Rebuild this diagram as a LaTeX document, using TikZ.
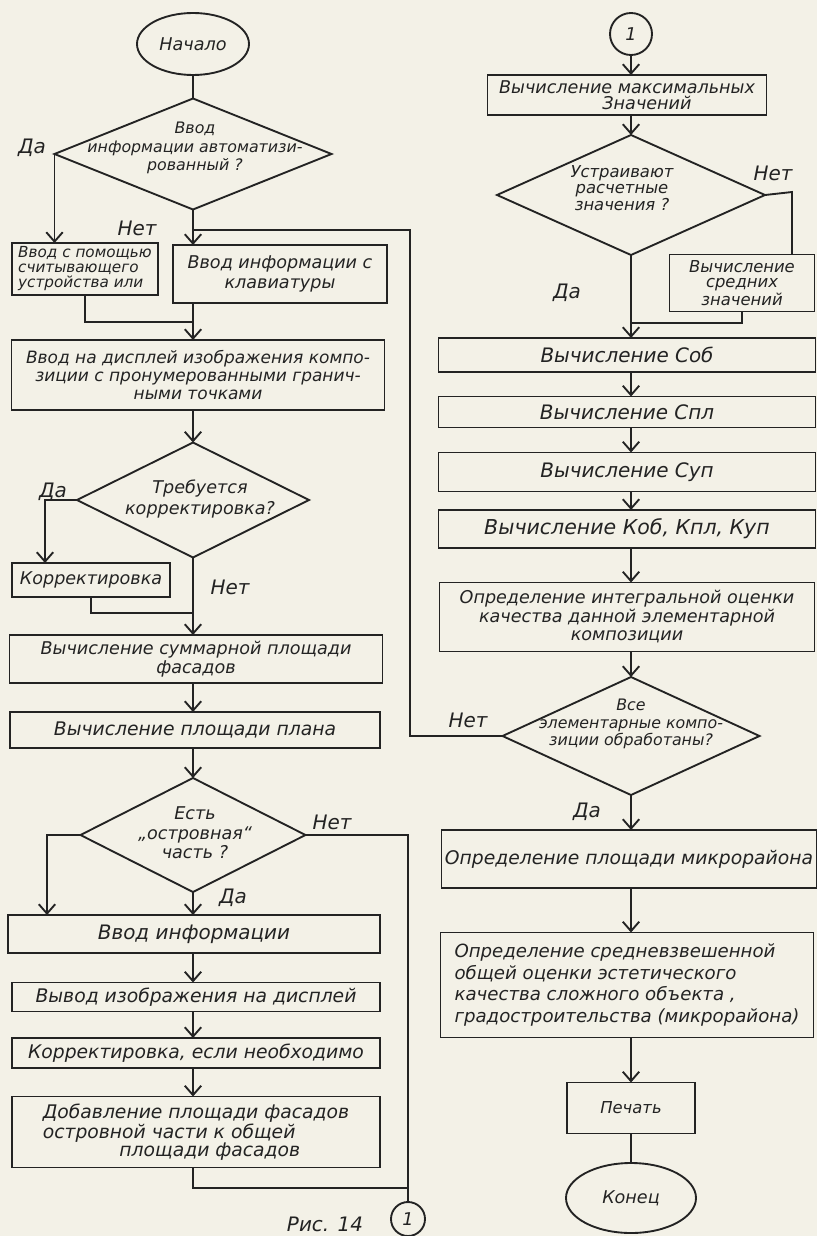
\documentclass[tikz,border=0pt]{standalone}
\usepackage{fontspec}
\setmainfont{DejaVu Sans}
\usetikzlibrary{shapes.geometric,arrows.meta}
\definecolor{paper}{RGB}{243,241,231}
\definecolor{ink}{RGB}{35,35,35}
\newcommand{\myfs}[2]{\fontsize{#1}{#2}\selectfont\itshape}
\begin{document}
\begin{tikzpicture}[x=0.03cm,y=-0.03cm,
  sz/.style 2 args={minimum width=#1*0.03cm, minimum height=#2*0.03cm},
  box/.style={draw=ink, line width=1.6pt, rectangle, inner sep=0pt, outer sep=0pt, text=ink, align=center, font=\myfs{16}{15.5}},
  dia/.style={draw=ink, line width=1.6pt, diamond, inner sep=0pt, outer sep=0pt},
  term/.style={draw=ink, line width=1.6pt, ellipse, inner sep=0pt, outer sep=0pt, text=ink, font=\myfs{15}{15}},
  conn/.style={draw=ink, line width=1.6pt, circle, inner sep=0pt, outer sep=0pt, text=ink, font=\myfs{15}{15}},
  txt/.style={inner sep=0pt, text=ink, align=center, font=\myfs{15}{15.5}},
  lbl/.style={inner sep=0pt, text=ink, font=\myfs{17}{17}},
  ln/.style={draw=ink, line width=1.6pt},
  arr/.style={-{Straight Barb[length=8pt,width=14pt,line width=1.6pt]}}
]
\useasboundingbox (0,0) rectangle (817,1236);
\fill[paper] (0,0) rectangle (817,1236);

% ---------------- left column ----------------
\node[term, sz={112}{62}] (start) at (193,44) {Начало};
\node[dia, sz={277}{111}] (d1) at (193,154) {};
\node[txt, font=\myfs{13.5}{15.5}] (d1t) at (195,148) {Ввод\\информации автоматизи-\\рованный ?};
\node[lbl] (l1) at (32,148) {Да};
\node[lbl] (l2) at (137,228) {Нет};

\node[box, sz={146}{52}, align=left, font=\myfs{13}{12.8}] (b1) at (85,269) {Ввод с помощью\\считывающего\\устройства или};
\node[box, sz={214}{58}, font=\myfs{15}{17}] (b2) at (280,274) {Ввод информации с\\клавиатуры};
\coordinate (m1) at (193,322);
\coordinate (loopc) at (410,230);

\node[box, sz={373}{70}, font=\myfs{14.5}{15.5}] (b3) at (198,375) {Ввод на дисплей изображения компо-\\зиции с пронумерованными гранич-\\ными точками};

\node[dia, sz={232}{115}] (d2) at (193,500) {};
\node[txt, font=\myfs{15}{18}] (d2t) at (200,499) {Требуется\\корректировка?};
\node[lbl] (l3) at (53,492) {Да};
\node[lbl] (l4) at (230,587) {Нет};
\coordinate (k1) at (45,500);
\node[box, sz={158}{34}, font=\myfs{15}{15}] (b4) at (91,580) {Корректировка};
\coordinate (m2) at (193,613);

\node[box, sz={373}{48}, font=\myfs{15}{16}] (b5) at (196,659) {Вычисление суммарной площади\\фасадов};
\node[box, sz={370}{36}] (b6) at (195,730) {Вычисление площади плана};

\node[dia, sz={225}{114}] (d3) at (193,835) {};
\node[txt, font=\myfs{15}{16.5}] (d3t) at (195,833) {Есть\\„островная“\\часть ?};
\node[lbl] (l5) at (332,822) {Нет};
\node[lbl] (l6) at (233,898) {Да};
\coordinate (k2) at (47,835);

\node[box, sz={372}{38}, font=\myfs{17}{17}] (b7) at (194,934) {Ввод информации};
\node[box, sz={368}{29}] (b8) at (196,997) {Вывод изображения на дисплей};
\node[box, sz={368}{30}] (b9) at (196,1053) {Корректировка, если необходимо};
\node[box, sz={368}{71}, align=left, font=\myfs{16}{15.5}] (b10) at (196,1132) {Добавление площади фасадов\\островной части к общей\\\hspace*{2.3cm}площади фасадов};
\coordinate (m3) at (408,1188);
\node[conn, minimum size=34*0.03cm] (c1) at (408,1219) {1};
\node[inner sep=0pt, text=ink, font=\myfs{17}{17}] (fig) at (325,1224) {Рис. 14};

% ---------------- right column ----------------
\node[conn, minimum size=42*0.03cm] (c2) at (631,34) {1};
\node[box, sz={279}{40}, font=\myfs{15}{13.5}] (r1) at (627,95) {Вычисление максимальных\\\hspace*{1.2cm}Значений};
\node[dia, sz={268}{120}] (dr1) at (631,195) {};
\node[txt, font=\myfs{14}{14}] (dr1t) at (622,188) {Устраивают\\расчетные\\значения ?};
\node[lbl] (l7) at (773,173) {Нет};
\node[lbl] (l8) at (567,293) {Да};
\coordinate (k4) at (792,192);
\node[box, sz={145}{57}, font=\myfs{14}{13}] (r2) at (742,283) {Вычисление\\средних\\значений};
\coordinate (m4) at (631,323);

\node[box, sz={377}{34}, font=\myfs{17}{17}] (r3) at (627,355) {Вычисление Соб};
\node[box, sz={377}{31}, font=\myfs{17}{17}] (r4) at (627,412) {Вычисление Спл};
\node[box, sz={377}{39}, font=\myfs{17}{17}] (r5) at (627,472) {Вычисление Суп};
\node[box, sz={377}{38}, font=\myfs{17.5}{17.5}] (r6) at (627,529) {Вычисление Коб, Кпл, Куп};
\node[box, sz={375}{69}, font=\myfs{15}{15.8}] (r7) at (627,617) {Определение интегральной оценки\\качества данной элементарной\\композиции};

\node[dia, sz={257}{118}] (dr2) at (631,736) {};
\node[txt, font=\myfs{13.5}{15}] (dr2t) at (631,724) {Все\\элементарные компо-\\зиции обработаны?};
\node[lbl] (l9) at (468,720) {Нет};
\node[lbl] (l10) at (587,812) {Да};

\node[box, sz={375}{58}] (r8) at (629,859) {Определение площади микрорайона};
\node[box, sz={373}{105}, align=left, font=\myfs{15.5}{18.5}] (r9) at (627,985) {Определение средневзвешенной\\общей оценки эстетического\\качества сложного объекта ,\\градостроительства (микрорайона)};
\node[box, sz={128}{51}, font=\myfs{14}{14}] (r10) at (631,1108) {Печать};
\node[term, sz={130}{70}] (end) at (631,1198) {Конец};

% ---------------- connectors: left ----------------
\draw[ln] (start.south) -- (d1.north);
\draw[ln,arr] (d1.west) -- (d1.west |- b1.north);
\draw[ln,arr] (d1.south) -- (d1.south |- b2.north);
\draw[ln] (b1.south) |- (m1);
\draw[ln,arr] (b2.south -| m1) -- (b3.north -| m1);
\draw[ln] (dr2.west) -| (loopc) -- (loopc -| d1.south);
\draw[ln,arr] (b3.south -| d2.north) -- (d2.north);
\draw[ln,arr] (d2.west) -- (k1) -- (k1 |- b4.north);
\draw[ln] (b4.south) |- (m2);
\draw[ln,arr] (d2.south) -- (d2.south |- b5.north);
\draw[ln,arr] (b5.south -| m2) -- (b6.north -| m2);
\draw[ln,arr] (b6.south -| d3.north) -- (d3.north);
\draw[ln,arr] (d3.west) -- (k2) -- (k2 |- b7.north);
\draw[ln,arr] (d3.south) -- (d3.south |- b7.north);
\draw[ln] (d3.east) -| (c1.north);
\draw[ln,arr] (b7.south -| m2) -- (b8.north -| m2);
\draw[ln,arr] (b8.south -| m2) -- (b9.north -| m2);
\draw[ln,arr] (b9.south -| m2) -- (b10.north -| m2);
\draw[ln] (b10.south -| m2) |- (m3);

% ---------------- connectors: right ----------------
\draw[ln,arr] (c2.south) -- (c2.south |- r1.north);
\draw[ln,arr] (r1.south -| c2) -- (dr1.north);
\draw[ln] (dr1.east) -- (k4) -- (k4 |- r2.north);
\draw[ln,arr] (dr1.south) -- (dr1.south |- r3.north);
\draw[ln] (r2.south) |- (m4);
\draw[ln,arr] (r3.south -| c2) -- (r4.north -| c2);
\draw[ln,arr] (r4.south -| c2) -- (r5.north -| c2);
\draw[ln,arr] (r5.south -| c2) -- (r6.north -| c2);
\draw[ln,arr] (r6.south -| c2) -- (r7.north -| c2);
\draw[ln,arr] (r7.south -| c2) -- (dr2.north);
\draw[ln,arr] (dr2.south) -- (dr2.south |- r8.north);
\draw[ln,arr] (r8.south -| c2) -- (r9.north -| c2);
\draw[ln,arr] (r9.south -| c2) -- (r10.north -| c2);
\draw[ln] (r10.south) -- (end.north);
\end{tikzpicture}
\end{document}
